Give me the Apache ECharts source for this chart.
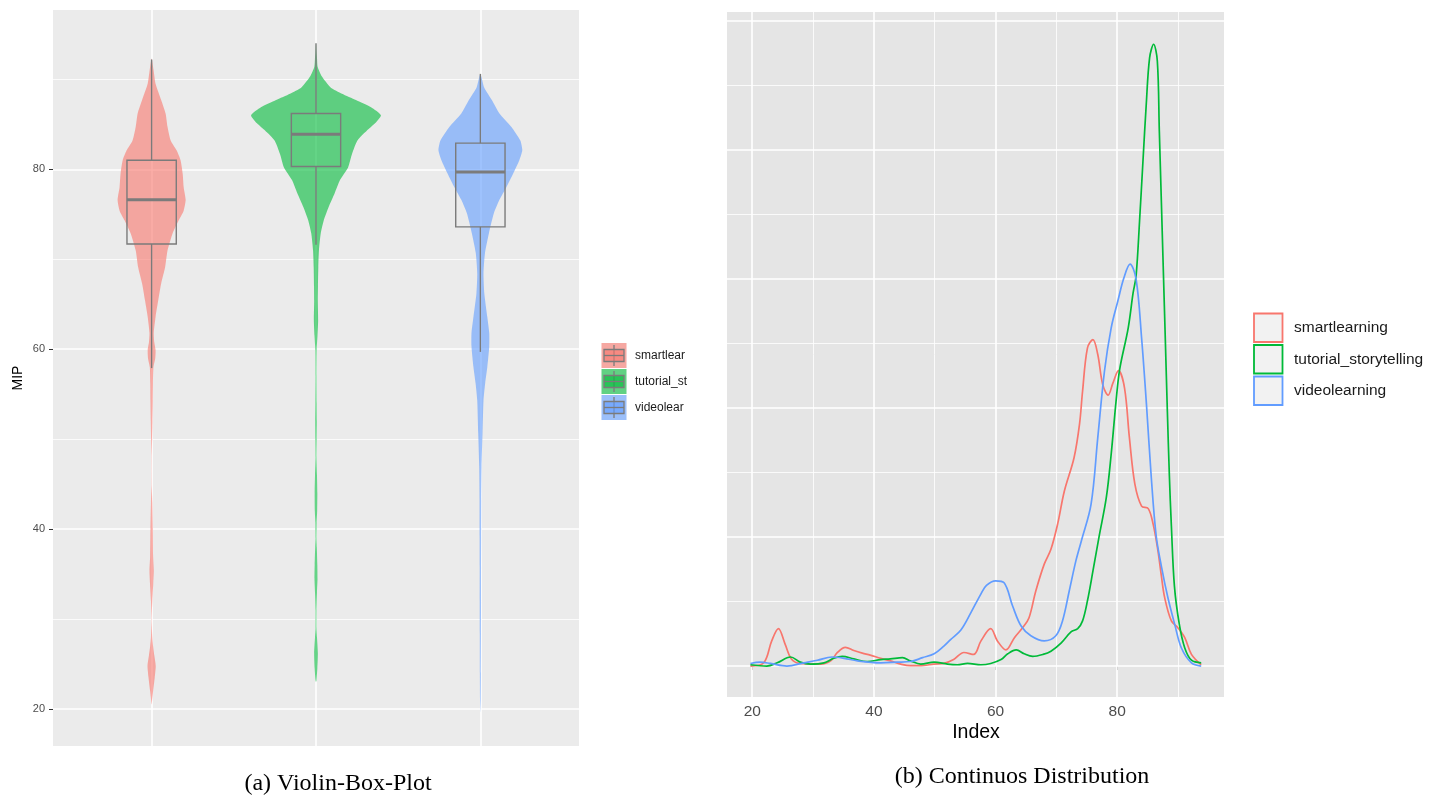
<!DOCTYPE html>
<html>
<head>
<meta charset="utf-8">
<script src="https://cdn.jsdelivr.net/npm/echarts@6/dist/echarts.min.js"></script>
<style>
  html, body { margin: 0; padding: 0; background: #ffffff; }
  #chart { width: 1429px; height: 795px; }
</style>
</head>
<body>
<div id="chart"></div>
<script>
// ---- groups ----
const groups = ['smartlearning', 'tutorial_storytelling', 'videolearning'];
const groupColors = ['#F8766D', '#00BA38', '#619CFF'];

// ---- violin outlines: [MIP, half width in category units] ----
const violinSmart = [
  [92.3, 0], [91, 0.012], [89.5, 0.024], [87.7, 0.058], [86.2, 0.085], [84.7, 0.097],
  [83.2, 0.116], [82.1, 0.152], [81, 0.176], [79.5, 0.189], [78, 0.195], [76.6, 0.207],
  [75.4, 0.195], [74.3, 0.164], [72.9, 0.128], [71, 0.097], [69.1, 0.082], [67.3, 0.058],
  [65.4, 0.040], [63.6, 0.024], [61.8, 0.013], [60.8, 0.016], [59.9, 0.024], [59, 0.022],
  [58, 0.011], [56.2, 0.008], [54.3, 0.007], [52, 0.005], [50, 0.003], [48, 0.001],
  [45, 0.001], [43, 0.004], [40, 0.007], [37, 0.009], [35.4, 0.013], [34, 0.010],
  [32, 0.004], [30, 0.001], [28, 0.004], [27, 0.009], [26, 0.016], [24.8, 0.025],
  [23.5, 0.019], [22, 0.009], [21, 0.003], [20.5, 0]
];
const violinTutorial = [
  [94, 0], [93, 0.003], [92.4, 0.006], [91.4, 0.010], [90.3, 0.036], [89.1, 0.089],
  [88.4, 0.158], [87.7, 0.243], [86.9, 0.335], [86, 0.395], [85.1, 0.359], [84.3, 0.31],
  [83.2, 0.252], [81.7, 0.219], [80.2, 0.195], [78.8, 0.146], [77.3, 0.113], [75.8, 0.077],
  [74.3, 0.047], [72.9, 0.029], [71, 0.018], [69.1, 0.014], [67, 0.012], [65.4, 0.011],
  [63.2, 0.013], [61.5, 0.009], [59.9, 0.004], [57, 0.003], [54, 0.004], [52, 0.005],
  [50, 0.004], [48, 0.003], [46, 0.006], [44, 0.008], [42, 0.007], [40.7, 0.004],
  [39, 0.003], [38, 0.005], [36, 0.008], [34.5, 0.009], [33, 0.006], [31, 0.003],
  [29, 0.003], [28, 0.006], [26.2, 0.011], [24.5, 0.008], [23.2, 0.003], [23, 0]
];
const violinVideo = [
  [90.6, 0], [89.1, 0.023], [87.7, 0.07], [86.2, 0.116], [84.7, 0.189], [83.2, 0.243],
  [82.1, 0.255], [81, 0.237], [79.5, 0.199], [78, 0.158], [76.6, 0.116], [75.1, 0.082],
  [72.9, 0.052], [70.7, 0.028], [68.4, 0.019], [66.2, 0.024], [63.6, 0.042], [61.8, 0.054],
  [60.3, 0.054], [58, 0.042], [56.2, 0.029], [54.3, 0.019], [50.6, 0.013], [46.9, 0.007],
  [43.2, 0.005], [39, 0.0045], [35.8, 0.004], [32, 0.004], [28.4, 0.0035], [24, 0.003],
  [21, 0.002], [19.6, 0]
];

// ---- box statistics: [lower whisker, Q1, median, Q3, upper whisker] ----
const boxSmart = [57.9, 71.7, 76.6, 81.0, 92.2];
const boxTutorial = [71.6, 80.3, 83.9, 86.2, 94.0];
const boxVideo = [59.7, 73.6, 79.7, 82.9, 90.6];

// ---- kernel density estimates: [Index, density] ----
const densitySmart = [
  [19.7, 0], [21.9, 0.0005], [23.2, 0.0039], [24.3, 0.0058], [25.4, 0.0034], [26.5, 0.0010],
  [27.9, 0.0004], [31.2, 0.0003], [32.9, 0.0008], [34, 0.0021], [35.3, 0.0029], [36.7, 0.0024],
  [38.1, 0.0020], [39.4, 0.0017], [41.1, 0.0012], [42.7, 0.0008], [44.4, 0.0003], [46, 0.00005],
  [48.2, 0.0001], [49.8, 0.0003], [51.5, 0.0004], [53.1, 0.0010], [54.8, 0.0021], [56.4, 0.0018],
  [57.6, 0.0039], [59.2, 0.0058], [60.3, 0.0039], [61.7, 0.0025], [63.1, 0.0044], [64.5, 0.0060],
  [65.5, 0.0075], [66.6, 0.0116], [68, 0.0158], [69.1, 0.0181], [70.2, 0.0220], [71.3, 0.0271],
  [72.9, 0.0323], [73.8, 0.0375], [74.3, 0.0426], [75.1, 0.0493], [76, 0.0506], [76.8, 0.0483],
  [77.6, 0.0437], [78.5, 0.0420], [79.3, 0.0439], [80.2, 0.0458], [81.2, 0.0431], [82, 0.0354],
  [82.9, 0.0282], [84, 0.0248], [85.1, 0.0244], [85.9, 0.0220], [86.7, 0.0178], [87.25, 0.0140],
  [87.8, 0.0106], [88.9, 0.0070], [90, 0.0059], [91.1, 0.0044], [92.2, 0.0018], [93.8, 0.0002]
];
const densityTutorial = [
  [19.7, 0.0002], [22.4, 0], [24.1, 0.0005], [26.3, 0.0014], [27.9, 0.0006], [29.6, 0.0003],
  [31.8, 0.0005], [33.4, 0.0012], [34.8, 0.0015], [36.7, 0.0011], [38.9, 0.0007], [41.1, 0.0010],
  [42.7, 0.0011], [44.7, 0.0013], [46, 0.0008], [47.7, 0.0003], [49.9, 0.0006], [52.1, 0.0003],
  [53.7, 0.0002], [55.4, 0.0004], [57.6, 0.0002], [59.2, 0.0004], [60.9, 0.0010], [62, 0.0019],
  [63.4, 0.0025], [64.7, 0.0019], [66.1, 0.0015], [67.8, 0.0018], [69.1, 0.0023], [70.8, 0.0036],
  [72.4, 0.0053], [73.5, 0.0058], [74.3, 0.0070], [75.1, 0.0101], [76, 0.0147], [77, 0.0200],
  [78.2, 0.0261], [79, 0.0328], [79.8, 0.0410], [80.4, 0.0460], [81.8, 0.0524], [82.6, 0.0578],
  [83.1, 0.0605], [83.67, 0.0690], [84.23, 0.0783], [84.77, 0.0871], [85.32, 0.0943], [85.98, 0.0964],
  [86.59, 0.0938], [86.92, 0.0829], [87.25, 0.0721], [87.58, 0.0612], [87.91, 0.0504], [88.24, 0.0395],
  [88.57, 0.0295], [88.9, 0.0217], [89.4, 0.0124], [90.2, 0.0065], [91.1, 0.0028], [92.2, 0.0009],
  [93.8, 0.0005]
];
const densityVideo = [
  [19.7, 0.0004], [21.3, 0.0006], [23, 0.0004], [25.7, 0], [28.5, 0.0005], [30.7, 0.0009],
  [33.1, 0.0014], [35.1, 0.0012], [37.3, 0.0008], [41.1, 0.0005], [43.8, 0.0006], [46, 0.0007],
  [48, 0.0013], [49.9, 0.0019], [51.5, 0.0031], [52.6, 0.0041], [54.3, 0.0056], [55.9, 0.0082],
  [57.6, 0.0112], [58.5, 0.0125], [60, 0.0132], [61.4, 0.0129], [62.8, 0.0093], [64.2, 0.0062],
  [65.8, 0.0047], [68, 0.0039], [69.9, 0.0047], [71, 0.0070], [72.1, 0.0116], [73.2, 0.0163],
  [74.1, 0.0194], [75.7, 0.0251], [76.8, 0.0354], [77.9, 0.0457], [79, 0.0524], [80.1, 0.0566],
  [81.1, 0.0602], [82.1, 0.0623], [83.1, 0.0600], [84, 0.0509], [84.8, 0.0406], [85.6, 0.0292],
  [86.4, 0.0202], [87.25, 0.0155], [88.35, 0.0105], [89.44, 0.0065], [90.55, 0.0028], [92.2, 0.0005],
  [93.8, 0]
];

// ---- axis breaks ----
const mipTicks = [20, 40, 60, 80];
const mipMinorTicks = [30, 50, 70, 90];
const indexTicks = [20, 40, 60, 80];
const indexMinorTicks = [30, 50, 70, 90];
const densityBreaks = [0, 0.02, 0.04, 0.06, 0.08, 0.1];
const densityMinorBreaks = [0.01, 0.03, 0.05, 0.07, 0.09];

// ---- text ----
const mipTitle = 'MIP';
const indexTitle = 'Index';
const captionA = '(a) Violin-Box-Plot';
const captionB = '(b) Continuos Distribution';

const violins = [violinSmart, violinTutorial, violinVideo];
const boxes = [boxSmart, boxTutorial, boxVideo];
const densities = [densitySmart, densityTutorial, densityVideo];

const SANS = '"Liberation Sans", Arial, Helvetica, sans-serif';
const SERIF = '"Liberation Serif", "Times New Roman", serif';
const BOX_LINE = '#7b7b7b';

function withAlpha(hex, a) {
  const n = parseInt(hex.slice(1), 16);
  return 'rgba(' + ((n >> 16) & 255) + ',' + ((n >> 8) & 255) + ',' + (n & 255) + ',' + a + ')';
}

function renderViolin(params, api) {
  const gi = params.dataIndex;
  const cx = api.value(0);
  const prof = violins[gi];
  const pts = [];
  for (let k = 0; k < prof.length; k++) {
    pts.push(api.coord([cx + prof[k][1], prof[k][0]]));
  }
  for (let k = prof.length - 2; k >= 1; k--) {
    pts.push(api.coord([cx - prof[k][1], prof[k][0]]));
  }
  return {
    type: 'polygon',
    shape: { points: pts, smooth: 0.2 },
    style: { fill: withAlpha(groupColors[gi], 0.6), stroke: null },
    silent: true
  };
}

function boxLine(p1, p2, width) {
  return {
    type: 'line',
    shape: { x1: p1[0], y1: p1[1], x2: p2[0], y2: p2[1] },
    style: { stroke: BOX_LINE, lineWidth: width, fill: null }
  };
}

function renderBox(params, api) {
  const gi = params.dataIndex;
  const cx = api.value(0);
  const s = boxes[gi];
  const hw = 0.15;
  const tl = api.coord([cx - hw, s[3]]);
  const br = api.coord([cx + hw, s[1]]);
  return {
    type: 'group',
    silent: true,
    children: [
      boxLine(api.coord([cx, s[4]]), api.coord([cx, s[3]]), 1.4),
      boxLine(api.coord([cx, s[1]]), api.coord([cx, s[0]]), 1.4),
      { type: 'rect', shape: { x: tl[0], y: tl[1], width: br[0] - tl[0], height: br[1] - tl[1] },
        style: { fill: null, stroke: BOX_LINE, lineWidth: 1.4 } },
      boxLine(api.coord([cx - hw, s[2]]), api.coord([cx + hw, s[2]]), 3)
    ]
  };
}

function gridLines(major, minor, axisKey, extra) {
  const out = [];
  major.forEach(v => out.push({ [axisKey]: v, lineStyle: { width: 1.6 } }));
  minor.forEach(v => out.push({ [axisKey]: v, lineStyle: { width: 0.8 } }));
  return out.concat(extra || []);
}

// panel grid lines sit beneath every data mark
const markLineBase = {
  silent: true,
  z: 1,
  symbol: ['none', 'none'],
  label: { show: false },
  animation: false,
  emphasis: { disabled: true },
  lineStyle: { color: '#ffffff', type: 'solid', opacity: 1 }
};

const chart = echarts.init(document.getElementById('chart'), null, { renderer: 'canvas' });

// legend for the violin panel (key labels cut off at the panel edge)
const leftLegend = [];
groups.forEach((g, i) => {
  const y0 = 343 + i * 26;
  leftLegend.push({ type: 'rect', shape: { x: 601.5, y: y0, width: 25, height: 25 },
    style: { fill: '#F2F2F2' } });
  leftLegend.push({ type: 'rect', shape: { x: 601.5, y: y0, width: 25, height: 25 },
    style: { fill: withAlpha(groupColors[i], 0.6) } });
  leftLegend.push({ type: 'line', shape: { x1: 614, y1: y0 + 2, x2: 614, y2: y0 + 23 },
    style: { stroke: BOX_LINE, lineWidth: 1.3 } });
  leftLegend.push({ type: 'rect', shape: { x: 604, y: y0 + 6.5, width: 20, height: 12 },
    style: { fill: withAlpha(groupColors[i], 0.6), stroke: BOX_LINE, lineWidth: 1.3 } });
  leftLegend.push({ type: 'line', shape: { x1: 604, y1: y0 + 12.5, x2: 624, y2: y0 + 12.5 },
    style: { stroke: BOX_LINE, lineWidth: 1.3 } });
  leftLegend.push({ type: 'text', x: 635, y: y0 + 12.5,
    style: { text: g, fontSize: 12, fontFamily: SANS, fill: '#1a1a1a', verticalAlign: 'middle',
      width: 55, overflow: 'truncate', ellipsis: '' } });
});

// legend for the density panel
const rightLegend = [];
groups.forEach((g, i) => {
  const y0 = 313.5 + i * 31.5;
  rightLegend.push({ type: 'rect', shape: { x: 1254, y: y0, width: 28.5, height: 28.5 },
    style: { fill: '#F2F2F2', stroke: groupColors[i], lineWidth: 1.8 } });
  rightLegend.push({ type: 'text', x: 1294, y: y0 + 14.5,
    style: { text: g, fontSize: 15.5, fontFamily: SANS, fill: '#1a1a1a', verticalAlign: 'middle' } });
});

const option = {
  animation: false,
  backgroundColor: '#ffffff',
  grid: [
    { left: 53, top: 10, width: 526, height: 736, show: true, backgroundColor: '#EBEBEB', borderWidth: 0 },
    { left: 727, top: 12, width: 497, height: 685, show: true, backgroundColor: '#E5E5E5', borderWidth: 0 }
  ],
  xAxis: [
    { gridIndex: 0, type: 'value', min: 0.4, max: 3.6,
      axisLine: { show: false }, axisTick: { show: false }, axisLabel: { show: false },
      splitLine: { show: false } },
    { gridIndex: 1, type: 'value', min: 15.85, max: 97.55,
      axisLine: { show: false },
      axisTick: { show: true, length: 4, customValues: indexTicks, lineStyle: { color: '#333333', width: 1 } },
      axisLabel: { customValues: indexTicks, color: '#4d4d4d', fontSize: 15.5, fontFamily: SANS, margin: 7 },
      splitLine: { show: false } }
  ],
  yAxis: [
    { gridIndex: 0, type: 'value', min: 15.9, max: 97.7,
      axisLine: { show: false },
      axisTick: { show: true, length: 4, customValues: mipTicks, lineStyle: { color: '#333333', width: 1 } },
      axisLabel: { customValues: mipTicks, color: '#4d4d4d', fontSize: 11, fontFamily: SANS, margin: 8 },
      splitLine: { show: false } },
    { gridIndex: 1, type: 'value', min: -0.0048, max: 0.1014,
      axisLine: { show: false }, axisTick: { show: false }, axisLabel: { show: false },
      splitLine: { show: false } }
  ],
  series: [
    {
      name: 'grid-left', type: 'line', xAxisIndex: 0, yAxisIndex: 0, data: [], z: 1, silent: true,
      markLine: Object.assign({}, markLineBase, {
        data: gridLines(mipTicks, mipMinorTicks, 'yAxis',
          groups.map((g, i) => ({ xAxis: i + 1, lineStyle: { width: 1.6 } })))
      })
    },
    {
      name: 'violin', type: 'custom', xAxisIndex: 0, yAxisIndex: 0, z: 6,
      renderItem: renderViolin,
      data: groups.map((g, i) => [i + 1, boxes[i][2]]),
      silent: true
    },
    {
      name: 'box', type: 'custom', xAxisIndex: 0, yAxisIndex: 0, z: 7,
      renderItem: renderBox,
      data: groups.map((g, i) => [i + 1, boxes[i][2]]),
      silent: true
    },
    {
      name: 'grid-right', type: 'line', xAxisIndex: 1, yAxisIndex: 1, data: [], z: 1, silent: true,
      markLine: Object.assign({}, markLineBase, {
        data: gridLines(densityBreaks, densityMinorBreaks, 'yAxis',
          gridLines(indexTicks, indexMinorTicks, 'xAxis'))
      })
    }
  ].concat(groups.map((g, i) => ({
    name: g, type: 'line', xAxisIndex: 1, yAxisIndex: 1, z: 6 + i,
    data: densities[i], showSymbol: false, smooth: 0.35, silent: true,
    lineStyle: { color: groupColors[i], width: 1.7 },
    itemStyle: { color: groupColors[i] }
  }))),
  graphic: [
    { type: 'text', x: 18, y: 378, rotation: Math.PI / 2,
      style: { text: mipTitle, fontSize: 14, fontFamily: SANS, fill: '#000000', align: 'center', verticalAlign: 'middle' } },
    { type: 'text', x: 976, y: 733,
      style: { text: indexTitle, fontSize: 19.5, fontFamily: SANS, fill: '#000000', align: 'center', verticalAlign: 'middle' } },
    { type: 'text', x: 338, y: 784,
      style: { text: captionA, fontSize: 24, fontFamily: SERIF, fill: '#000000', align: 'center', verticalAlign: 'middle' } },
    { type: 'text', x: 1022, y: 777,
      style: { text: captionB, fontSize: 24, fontFamily: SERIF, fill: '#000000', align: 'center', verticalAlign: 'middle' } }
  ].concat(leftLegend, rightLegend)
};

chart.setOption(option);
</script>
</body>
</html>
